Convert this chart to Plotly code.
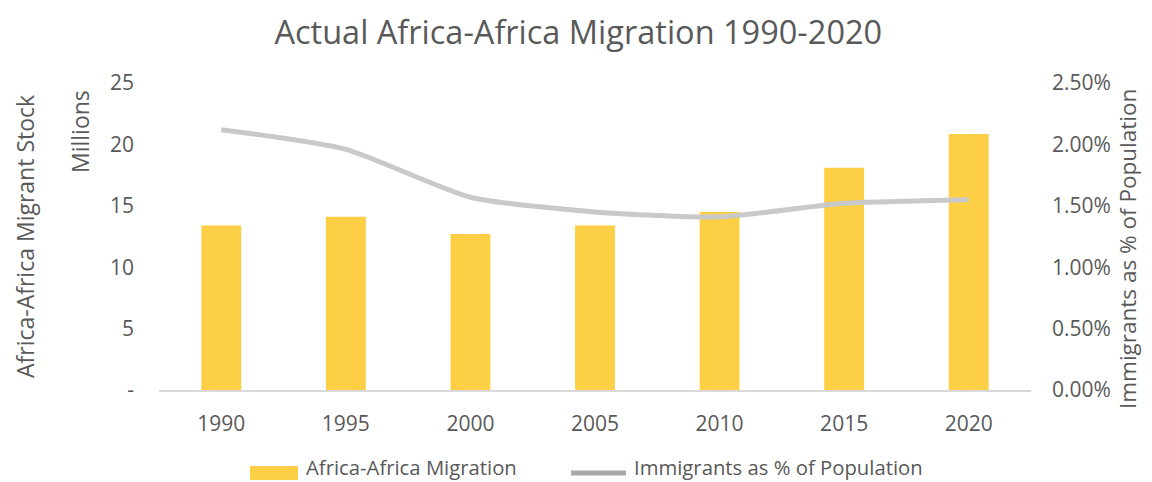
import plotly.graph_objects as go

# Africa-Africa migrant stock (millions) and immigrants as share of population
years = ["1990", "1995", "2000", "2005", "2010", "2015", "2020"]
migrant_stock_m = [13.4, 14.1, 12.7, 13.4, 14.5, 18.1, 20.85]
immigrant_share = [0.0212, 0.0196, 0.0157, 0.0145, 0.0141, 0.0152, 0.0155]

left_tick_vals = [0, 5, 10, 15, 20, 25]
left_tick_text = ["-", "5", "10", "15", "20", "25"]
right_tick_vals = [0, 0.005, 0.01, 0.015, 0.02, 0.025]

FONT = "Open Sans"
TEXT = "#595959"
BAR = "#FCCF44"
LINE = "#C9C9C9"

# plot-area geometry in pixels (used for paper-coordinate placement)
W, H = 1152, 482
L, R, T, B = 159, 121, 83, 92
PW, PH = W - L - R, H - T - B


def px(x):
    return (x - L) / PW


def py(y):
    return (H - B - y) / PH


fig = go.Figure()
fig.add_trace(go.Bar(
    x=years, y=migrant_stock_m, name="Africa-Africa Migration",
    marker=dict(color=BAR, line=dict(width=0)), yaxis="y",
))
fig.add_trace(go.Scatter(
    x=years, y=immigrant_share, name="Immigrants as % of Population",
    mode="lines", line=dict(color=LINE, width=5, shape="spline", smoothing=0.6),
    yaxis="y2",
))

fig.update_layout(
    width=W, height=H,
    margin=dict(l=L, r=R, t=T, b=B, pad=0),
    paper_bgcolor="white", plot_bgcolor="white",
    showlegend=False,
    bargap=0.68,
    font=dict(family=FONT, color=TEXT, size=21),
    title=dict(
        text="Actual Africa-Africa Migration 1990-2020",
        font=dict(family=FONT, size=32.5, color=TEXT),
        x=0.502, xanchor="center", y=1 - 33 / H, yanchor="middle",
    ),
    xaxis=dict(
        type="category", showgrid=False, zeroline=False,
        showline=True, linecolor="#D9D9D9", linewidth=2,
        ticks="", ticklabelstandoff=14,
        tickfont=dict(size=21, color=TEXT),
    ),
    yaxis=dict(
        range=[0, 25], tickvals=left_tick_vals, ticktext=left_tick_text,
        showgrid=False, zeroline=False, showline=False, ticks="",
        ticklabelstandoff=24, tickfont=dict(size=21, color=TEXT),
    ),
    yaxis2=dict(
        range=[0, 0.025], tickvals=right_tick_vals, tickformat=".2%",
        overlaying="y", side="right",
        showgrid=False, zeroline=False, showline=False, ticks="",
        ticklabelstandoff=20, tickfont=dict(size=21, color=TEXT),
    ),
)

annotations = [
    dict(text="Millions", x=px(80), y=py(132), textangle=-90),
    dict(text="Africa-Africa Migrant Stock", x=px(25), y=py(237), textangle=-90),
    dict(text="Immigrants as % of Population", x=px(1127), y=py(249), textangle=-90,
         font=dict(size=22.5, color=TEXT, family=FONT)),
    dict(text="Africa-Africa Migration", x=px(304), y=py(467), xanchor="left",
         font=dict(size=20.3, color=TEXT, family=FONT)),
    dict(text="Immigrants as % of Population", x=px(632), y=py(467), xanchor="left",
         font=dict(size=20.3, color=TEXT, family=FONT)),
]
for a in annotations:
    a.setdefault("xanchor", "center")
    a.setdefault("font", dict(size=23, color=TEXT, family=FONT))
    fig.add_annotation(xref="paper", yref="paper", yanchor="middle",
                       showarrow=False, **a)

# legend swatches
fig.add_shape(type="rect", xref="paper", yref="paper",
              x0=px(250), x1=px(298), y0=py(480), y1=py(466),
              fillcolor=BAR, line=dict(width=0))
fig.add_shape(type="line", xref="paper", yref="paper",
              x0=px(571), x1=px(626), y0=py(473), y1=py(473),
              line=dict(color="#A8A8A8", width=5))

fig.write_html("out.html")
